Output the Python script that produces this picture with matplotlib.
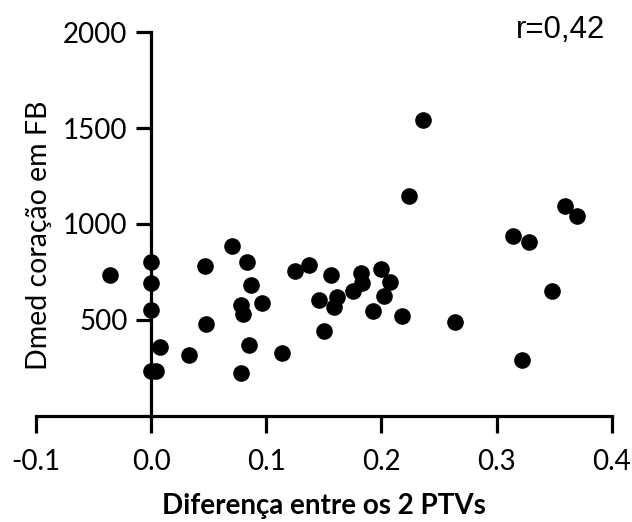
import matplotlib.pyplot as plt
import numpy as np

# differences between the 2 PTVs
diff_ptv = [-0.036, 0.0, 0.0, 0.0, 0.008, 0.0, 0.004, 0.033, 0.047, 0.048,
            0.070, 0.083, 0.087, 0.078, 0.080, 0.096, 0.085, 0.078, 0.114, 0.125,
            0.137, 0.156, 0.182, 0.200, 0.183, 0.175, 0.207, 0.202, 0.146, 0.161,
            0.159, 0.193, 0.218, 0.264, 0.150, 0.236, 0.224, 0.359, 0.370, 0.314,
            0.328, 0.348, 0.322]
# mean heart dose
dmed = [733, 803, 693, 551, 359, 232, 232, 316, 780, 478,
        885, 803, 681, 577, 530, 589, 368, 224, 328, 754,
        785, 733, 742, 765, 690, 650, 695, 624, 603, 617,
        565, 545, 519, 486, 441, 1542, 1147, 1095, 1041, 938,
        904, 650, 290]

xticks = [-0.1, 0.0, 0.1, 0.2, 0.3, 0.4]
yticks = [500, 1000, 1500, 2000]

plt.rcParams['font.family'] = ['Lato', 'DejaVu Sans']

fig = plt.figure(figsize=(6.32, 5.22), dpi=100)
ax = fig.add_axes([0.057, 0.204, 0.911, 0.734])

ax.scatter(diff_ptv, dmed, s=120, color='black', zorder=3, clip_on=False)

ax.set_xlim(-0.1, 0.4)
ax.set_ylim(0, 2000)
ax.set_xticks(xticks)
ax.set_xticklabels([f'{t:.1f}' for t in xticks])
ax.set_yticks(yticks)

ax.spines['top'].set_visible(False)
ax.spines['right'].set_visible(False)
ax.spines['left'].set_position(('data', 0.0))
ax.spines['bottom'].set_position(('data', 0))
for s in ['left', 'bottom']:
    ax.spines[s].set_linewidth(2.3)
ax.tick_params(axis='both', width=2.3, labelsize=20)
ax.tick_params(axis='x', length=12, pad=12)
ax.tick_params(axis='y', length=11, pad=6)

ax.set_xlabel('Diferença entre os 2 PTVs', fontsize=20, fontweight='bold', labelpad=13)
fig.text(0.062, 0.55, 'Dmed coração em FB', rotation=90, fontsize=20.5,
         ha='center', va='center')

fig.text(0.816, 0.928, 'r=0,42', fontsize=22.5, family='Liberation Sans',
         ha='left', va='baseline')

fig.savefig('out.png', dpi=100)
